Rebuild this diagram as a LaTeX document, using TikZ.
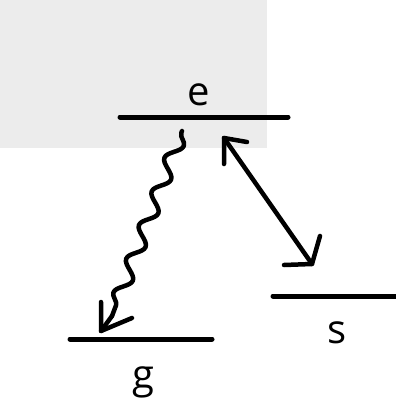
\documentclass[tikz,border=0pt]{standalone}
\usepackage{fontspec}
\setmainfont{Open Sans}
\usetikzlibrary{decorations.pathmorphing}
\begin{document}
\begin{tikzpicture}[x=1pt,y=-1pt,
  level/.style={line width=5pt,line cap=round},
  lbl/.style={font=\fontsize{40}{40}\selectfont,inner sep=0pt,anchor=base},
  arr/.style={line width=4.5pt,line cap=round,line join=round}]
\useasboundingbox (0,0) rectangle (396,407);
\fill[gray!15] (0,0) rectangle (267,148);
% levels
\coordinate (e1) at (120,117); \coordinate (e2) at (288,117);
\coordinate (g1) at (70,339); \coordinate (g2) at (212,339);
\coordinate (s1) at (273,296); \coordinate (s2) at (396,296);
\draw[level] (e1) -- (e2);
\draw[level] (g1) -- (g2);
\draw[level] (s1) -- (s2);
\node[lbl] (le) at (199,105) {e};
\node[lbl] (lg) at (143,388) {g};
\node[lbl] (ls) at (337,343) {s};
% wavy decay
\coordinate (w0) at (182,131);
\coordinate (w1) at (112,316);
\coordinate (wt) at (101,331);
\draw[arr,decorate,decoration={snake,amplitude=7pt,segment length=36pt,pre length=2pt,post length=4pt}] (w0) -- (w1);
\draw[arr] (w1) -- (wt);
\coordinate (wh1) at (101,302);
\coordinate (wh2) at (132,318);
\draw[arr] (wh1) -- (wt) -- (wh2);
% double arrow
\coordinate (a1) at (224,138);
\coordinate (a2) at (312,264);
\draw[arr] (a1) -- (a2);
\coordinate (ah1) at (247,142);
\coordinate (ah2) at (224,164);
\draw[arr] (ah1) -- (a1) -- (ah2);
\coordinate (bh1) at (320,236);
\coordinate (bh2) at (284,265);
\draw[arr] (bh1) -- (a2) -- (bh2);
\end{tikzpicture}
\end{document}
